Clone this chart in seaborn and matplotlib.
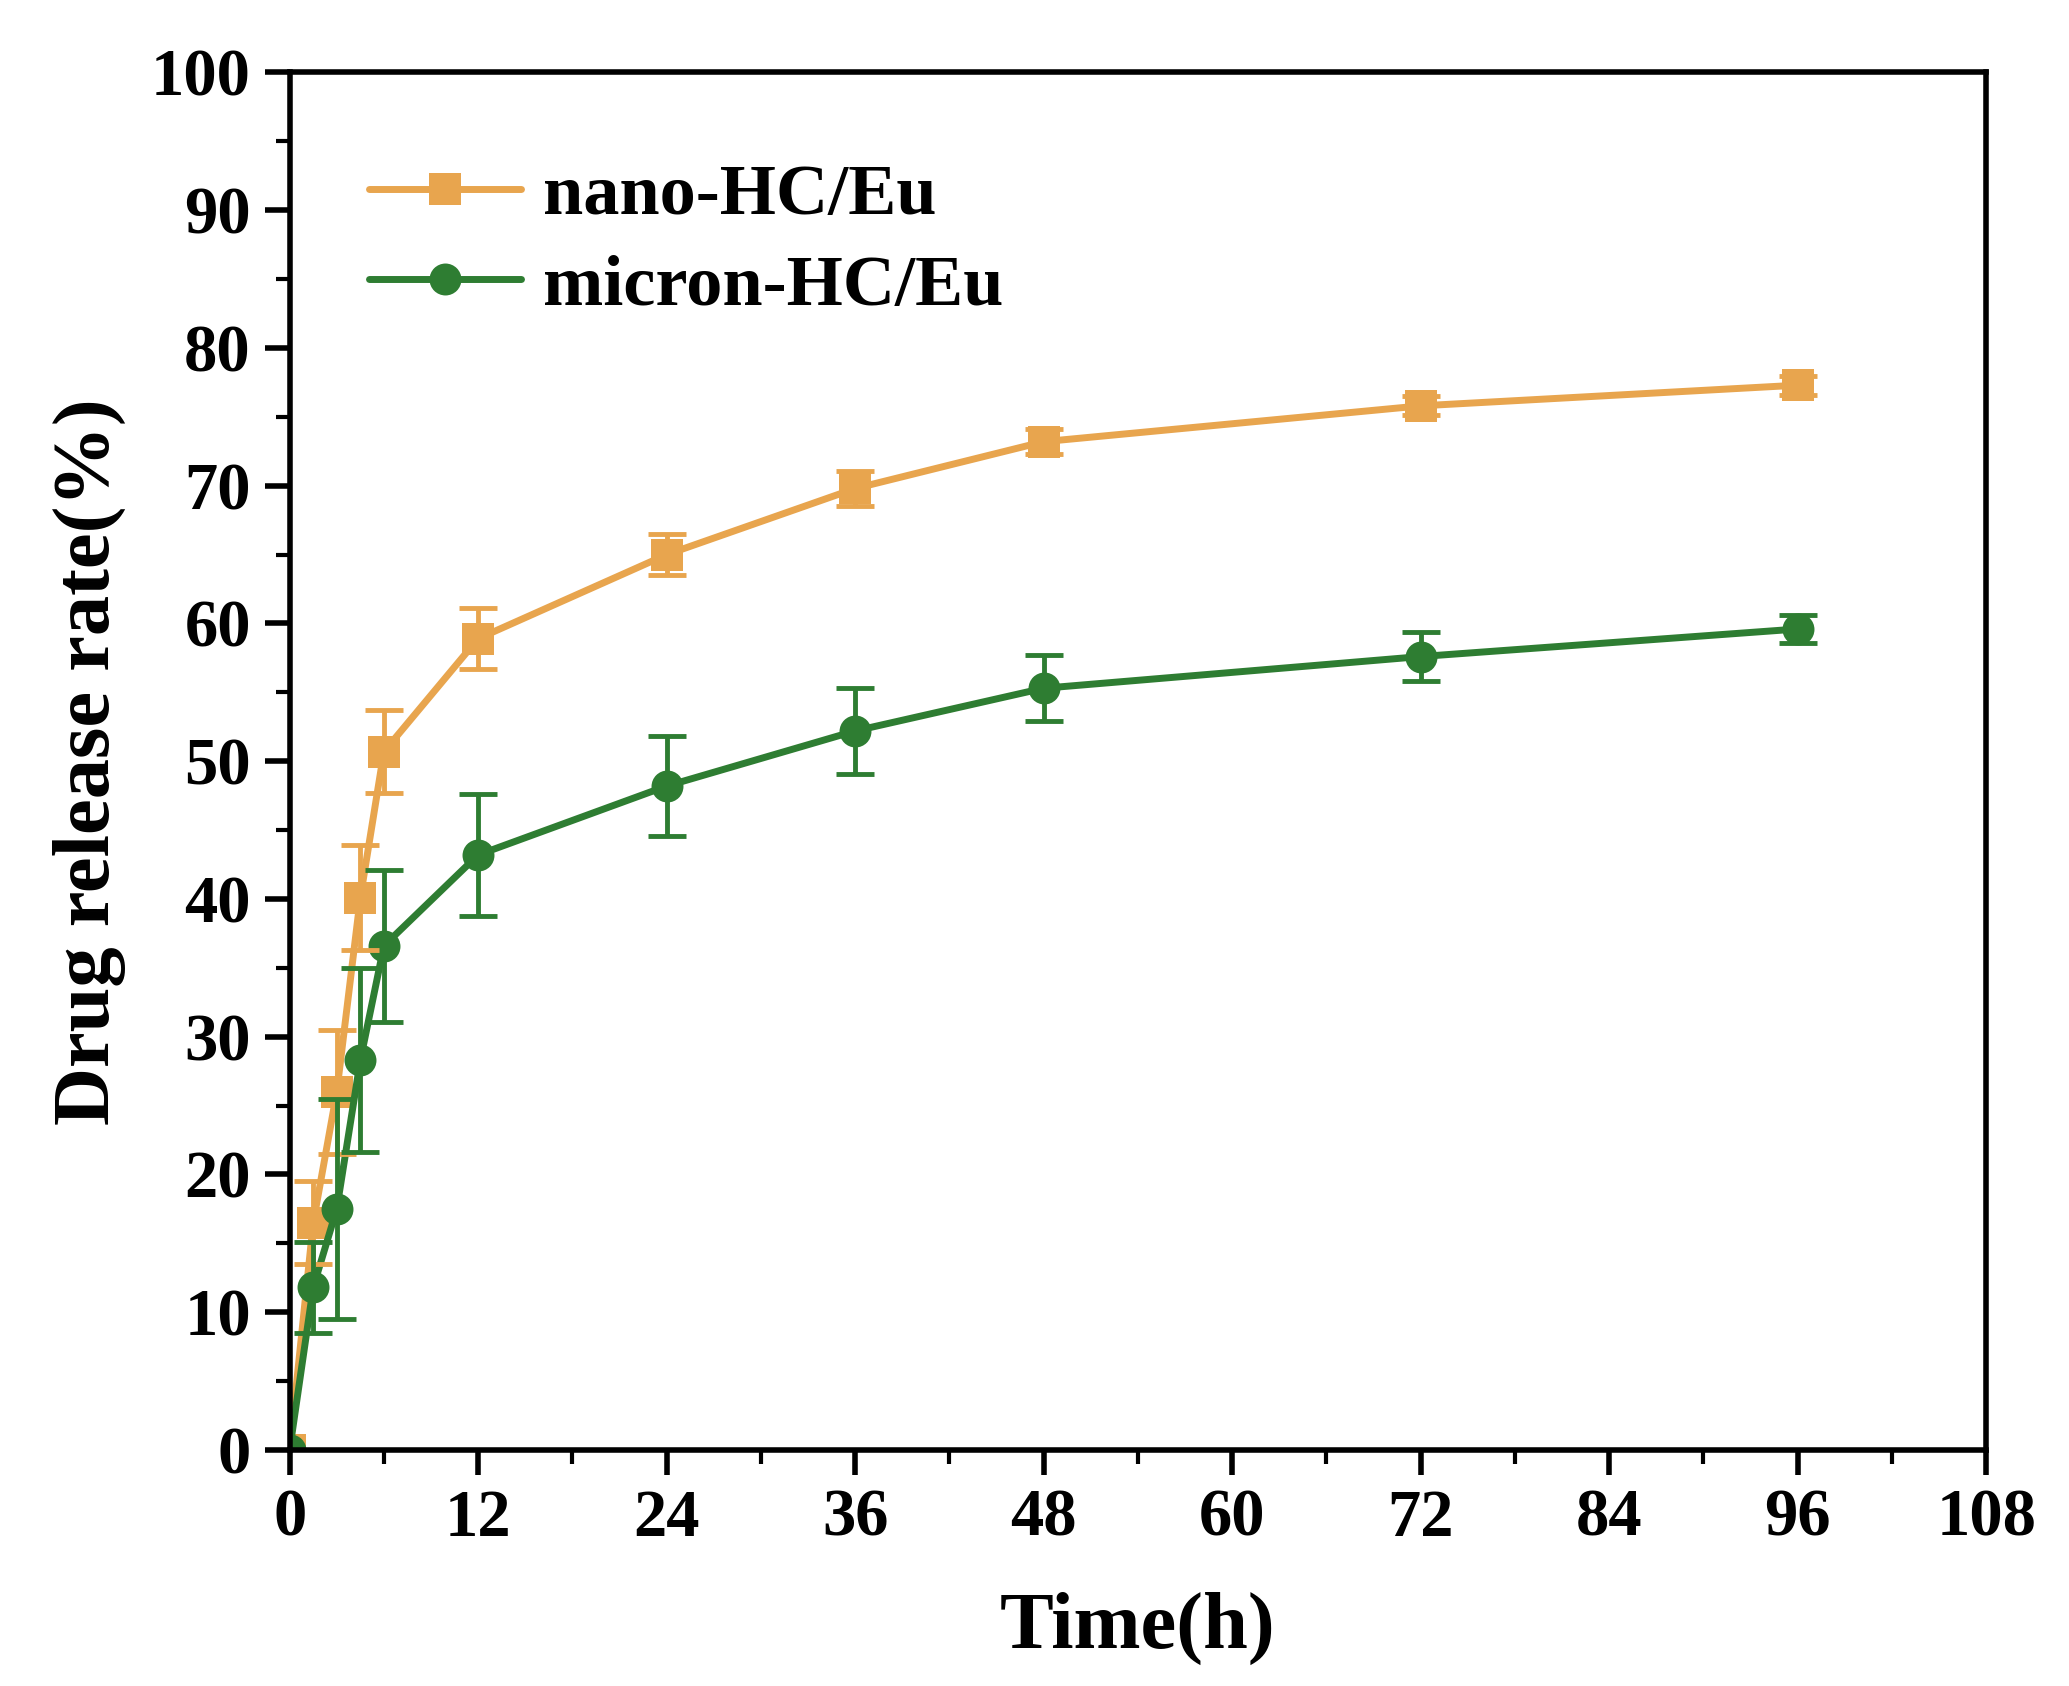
import numpy as np
import pandas as pd
import matplotlib
matplotlib.use("Agg")
import matplotlib.pyplot as plt
from matplotlib.ticker import MultipleLocator
import seaborn as sns

# release data
time_h = [0, 1.5, 3, 4.5, 6, 12, 24, 36, 48, 72, 96]
nano = [0, 16.5, 26.0, 40.1, 50.7, 58.9, 65.0, 69.8, 73.2, 75.8, 77.3]
nano_err = [0, 3.0, 4.5, 3.8, 3.0, 2.2, 1.5, 1.3, 0.9, 0.7, 0.7]
micron = [0, 11.8, 17.5, 28.3, 36.6, 43.2, 48.2, 52.2, 55.3, 57.6, 59.6]
micron_err = [0, 3.3, 8.0, 6.7, 5.5, 4.4, 3.6, 3.1, 2.4, 1.8, 1.0]

labels = ["nano-HC/Eu", "micron-HC/Eu"]
colors = ["#E8A54E", "#2E7D32"]

df = pd.DataFrame({
    "time": time_h + time_h,
    "rate": nano + micron,
    "err": nano_err + micron_err,
    "sample": [labels[0]] * len(time_h) + [labels[1]] * len(time_h),
})

sns.set_style("ticks")
plt.rcParams["font.family"] = ["Liberation Serif", "DejaVu Serif"]
plt.rcParams["font.weight"] = "bold"
for key in ["text.color", "axes.labelcolor", "xtick.color", "ytick.color", "axes.edgecolor"]:
    plt.rcParams[key] = "black"

fig = plt.figure(figsize=(20.69, 16.86), dpi=100)
ax = fig.add_axes([0.140, 0.140, 0.820, 0.817])

sns.lineplot(data=df, x="time", y="rate", hue="sample", style="sample",
             markers={labels[0]: "s", labels[1]: "o"}, dashes=False,
             palette=dict(zip(labels, colors)), linewidth=5, markersize=23,
             markeredgewidth=0, ax=ax)

for lab, col in zip(labels, colors):
    sub = df[df["sample"] == lab]
    ax.errorbar(sub["time"], sub["rate"], yerr=sub["err"], fmt="none",
                ecolor=col, elinewidth=3.5, capsize=14, capthick=3.5)

ax.set_xlim(0, 108)
ax.set_ylim(0, 100)
ax.xaxis.set_major_locator(MultipleLocator(12))
ax.xaxis.set_minor_locator(MultipleLocator(6))
ax.yaxis.set_major_locator(MultipleLocator(10))
ax.yaxis.set_minor_locator(MultipleLocator(5))
ax.tick_params(which="major", direction="out", length=18, width=4,
               labelsize=48, pad=10)
ax.tick_params(which="minor", direction="out", length=10, width=3)
for s in ax.spines.values():
    s.set_linewidth(4)
for t in ax.get_xticklabels() + ax.get_yticklabels():
    t.set_fontweight("bold")

ax.set_xlabel("Time(h)", fontsize=58, fontweight="bold", labelpad=30)
ax.set_ylabel("Drug release rate(%)", fontsize=58, fontweight="bold", labelpad=18)

ax.legend(loc="upper left", frameon=False, handlelength=2.1,
          borderaxespad=0.0, labelspacing=0.35, handletextpad=0.3,
          bbox_to_anchor=(0.03, 0.955), prop={"weight": "bold", "size": 52})

fig.savefig("out.png", dpi=100)
